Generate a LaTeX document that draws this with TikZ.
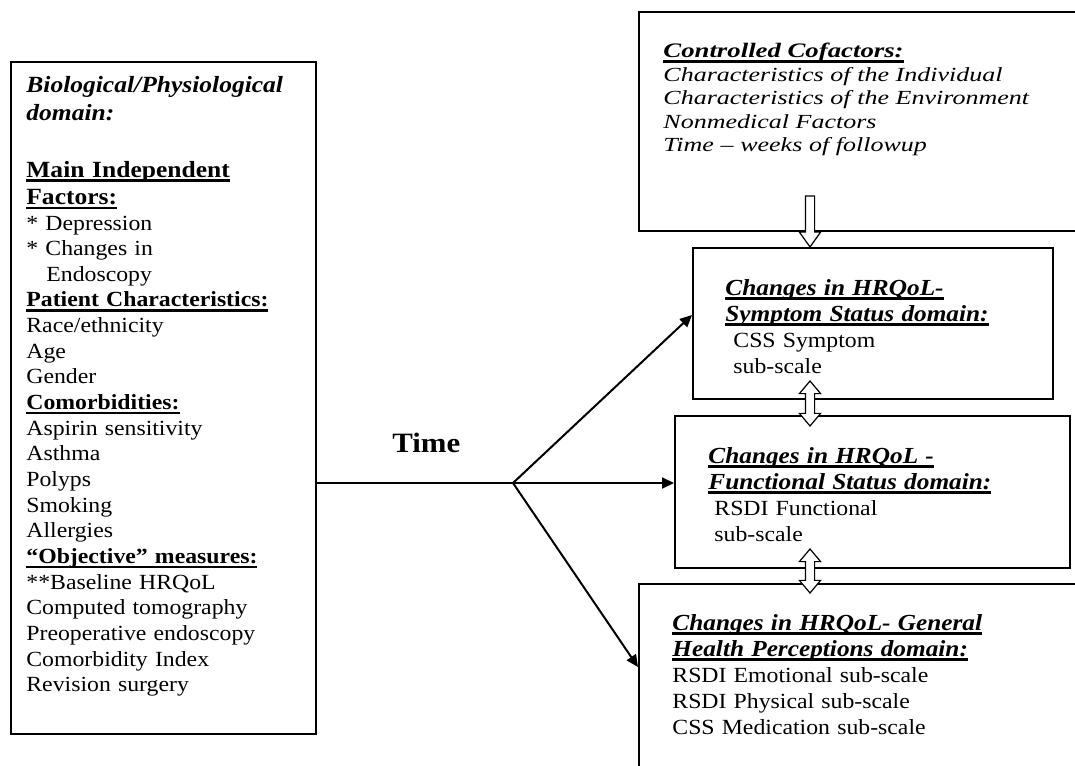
\documentclass[tikz,border=0pt]{standalone}
\usepackage{fontspec}
\setmainfont{Liberation Serif}[FakeStretch=1.1]
\newfontfamily\coffamily{Liberation Serif}[FakeStretch=1.3]
\usetikzlibrary{arrows.meta,fit,shapes.arrows}

\newcommand{\bodysize}{\fontsize{10.8}{12.83}\selectfont}
\newcommand{\headsize}{\fontsize{11.6}{13.8}\selectfont}
\newcommand{\ulhead}[1]{\leavevmode\sbox0{#1}\rlap{\rule[-2.4pt]{\wd0}{1.3pt}}\usebox0}

\tikzset{
  panel/.style={draw, line width=1pt, inner sep=0pt},
  txt/.style={anchor=base west, inner sep=0pt, align=left, text width=#1},
  hollow/.style={draw, fill=white, line width=0.6pt, inner sep=2pt},
  arr/.style={line width=1pt, -{Triangle[length=6pt,width=5.5pt]}}
}

\begin{document}
\begin{tikzpicture}[x=0.5pt, y=-0.5pt]
    \useasboundingbox (0,0) rectangle (1075,765);
    \clip (0,0) rectangle (1075,765);

    % boxes
    \node[panel, fit={(11,62) (316,734)}] (bio) {};
    \node[panel, fit={(639,12) (1095,231)}] (cof) {};
    \node[panel, fit={(693,248) (1053,399)}] (symp) {};
    \node[panel, fit={(675,416) (1070,568)}] (func) {};
    \node[panel, fit={(639,584) (1095,800)}] (gen) {};

    % left box
    \node[txt=150pt, font=\headsize] (biohead) at (26,93)
        {\textbf{\textit{Biological/Physiological}}\\\textbf{\textit{domain:}}};
    \node[txt=150pt, font=\headsize] (mainhead) at (26,177)
        {\ulhead{\textbf{Main Independent}}\\\ulhead{\textbf{Factors:}}};
    \node[txt=150pt, font=\bodysize] (biolist) at (26,230)
        {* Depression\\{}* Changes in\\\hspace*{10pt}Endoscopy\\
         \ulhead{\textbf{Patient Characteristics:}}\\Race/ethnicity\\Age\\Gender\\
         \ulhead{\textbf{Comorbidities:}}\\Aspirin sensitivity\\Asthma\\Polyps\\Smoking\\Allergies\\
         \ulhead{\textbf{“Objective” measures:}}\\{}**Baseline HRQoL\\Computed tomography\\
         Preoperative endoscopy\\Comorbidity Index\\Revision surgery};

    % right boxes
    \node[txt=220pt, font=\coffamily\fontsize{10}{11.75}\selectfont] (coftext) at (663,58)
        {{\fontsize{10.3}{11.75}\selectfont\ulhead{\textbf{\textit{Controlled Cofactors:}}}}\\
         \textit{Characteristics of the Individual}\\\textit{Characteristics of the Environment}\\
         \textit{Nonmedical Factors}\\\textit{Time – weeks of followup}};
    \node[txt=170pt, font=\fontsize{10.8}{13}\selectfont] (symptext) at (725,295)
        {{\fontsize{11.5}{13}\selectfont\ulhead{\textbf{\textit{Changes in HRQoL-}}}\\
         \ulhead{\textbf{\textit{Symptom Status domain:}}}}\\
         \hspace*{4pt}CSS Symptom\\\hspace*{4pt}sub-scale};
    \node[txt=170pt, font=\fontsize{10.8}{13}\selectfont] (functext) at (708,463)
        {{\fontsize{11.5}{13}\selectfont\ulhead{\textbf{\textit{Changes in HRQoL -}}}\\
         \ulhead{\textbf{\textit{Functional Status domain:}}}}\\
         \hspace*{3pt}RSDI Functional\\\hspace*{3pt}sub-scale};
    \node[txt=190pt, font=\fontsize{10.8}{13}\selectfont] (gentext) at (672,630)
        {{\fontsize{11.5}{13}\selectfont\ulhead{\textbf{\textit{Changes in HRQoL- General}}}\\
         \ulhead{\textbf{\textit{Health Perceptions domain:}}}}\\
         RSDI Emotional sub-scale\\RSDI Physical sub-scale\\CSS Medication sub-scale};

    % time fork
    \node[anchor=base west, inner sep=0pt, font=\fontsize{14}{16}\selectfont\bfseries] (time) at (392,452) {Time};
    \coordinate (fork) at (513,483);
    \draw[line width=1pt] (bio.east |- fork) -- (fork);
    \draw[arr] (fork) -- ([yshift=4.25pt]symp.west);
    \draw[arr] (fork) -- (func.west |- fork);
    \draw[arr] (fork) -- ([yshift=12.5pt]gen.west);

    % hollow arrows
    \node[hollow, single arrow, shape border rotate=270, anchor=tip,
          minimum height=25.5pt, minimum width=10pt,
          single arrow head extend=3pt, single arrow tip angle=71] (cof2symp) at (810,248) {};
    \node[hollow, double arrow, shape border rotate=90,
          minimum height=22.5pt, minimum width=10pt,
          double arrow head extend=3pt, double arrow tip angle=80] (symp2func) at (810,403.5) {};
    \node[hollow, double arrow, shape border rotate=90,
          minimum height=22pt, minimum width=10pt,
          double arrow head extend=3pt, double arrow tip angle=80] (func2gen) at (810,571) {};
\end{tikzpicture}
\end{document}
